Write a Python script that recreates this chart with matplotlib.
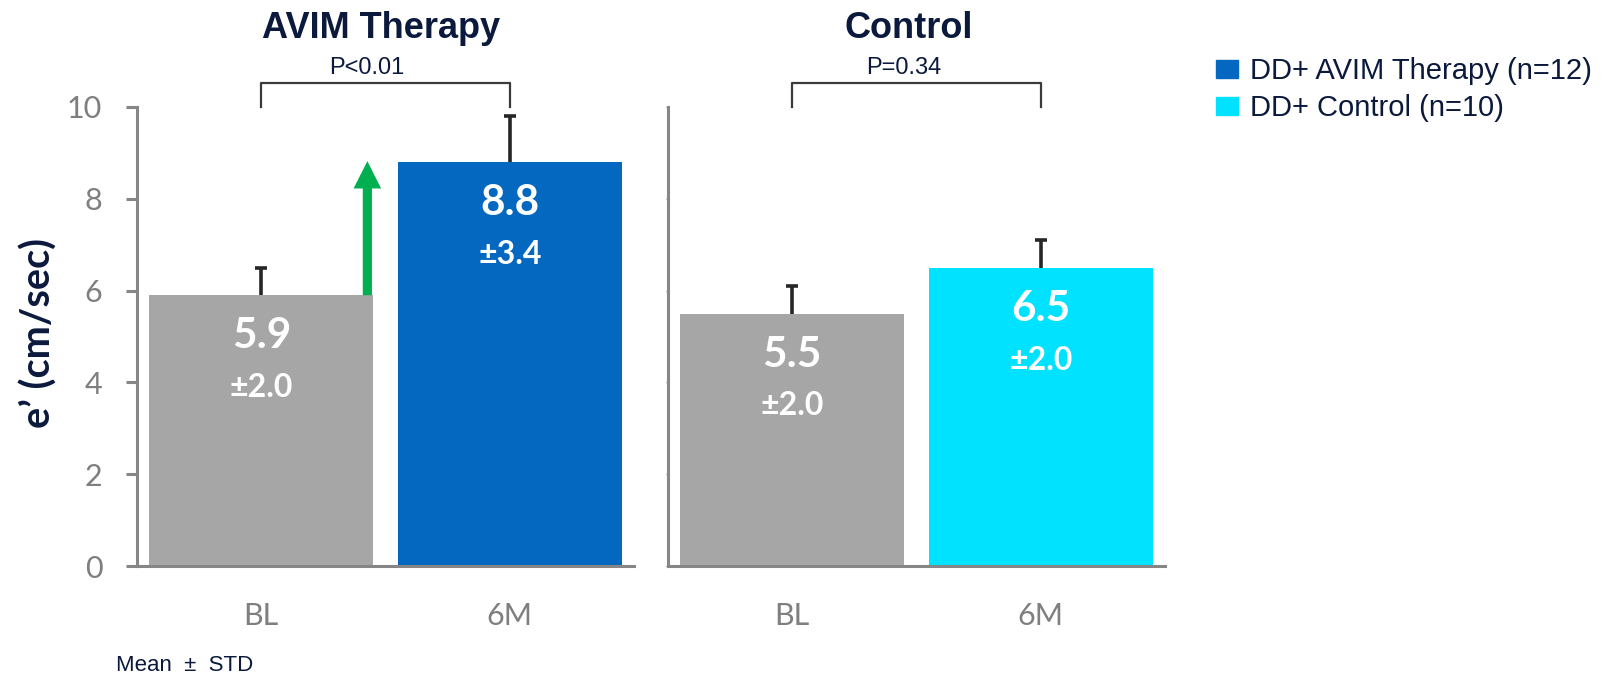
import matplotlib
matplotlib.use("Agg")
import matplotlib.pyplot as plt
from matplotlib.patches import Patch

# data
groups = ["AVIM Therapy", "Control"]
timepoints = ["BL", "6M"]
avim_means = [5.9, 8.8]
avim_sd = [2.0, 3.4]
avim_errbar = [0.6, 1.0]      # drawn whisker length (upper side only)
control_means = [5.5, 6.5]
control_sd = [2.0, 2.0]
control_errbar = [0.6, 0.6]
p_labels = ["P<0.01", "P=0.34"]
legend_labels = ["DD+ AVIM Therapy (n=12)", "DD+ Control (n=10)"]
yticks = [0, 2, 4, 6, 8, 10]

GRAY = "#A6A6A6"
BLUE = "#0468C1"
CYAN = "#00E2FF"
NAVY = "#0B1A3C"
AXIS = "#868686"
ERR = "#262626"
GREEN = "#00B050"

plt.rcParams["font.family"] = ["Liberation Sans", "DejaVu Sans"]

W, H = 1613, 675
fig = plt.figure(figsize=(W / 100, H / 100), dpi=100)


def px_axes(x0, y_bottom, width, y_top):
    return fig.add_axes([x0 / W, (H - y_bottom) / H, width / W, (y_bottom - y_top) / H])


ax1 = px_axes(137, 566, 497, 107)
ax2 = px_axes(668, 566, 497, 107)

panels = [
    (ax1, avim_means, avim_sd, avim_errbar, [GRAY, BLUE], p_labels[0], groups[0], 0.483, 0.426),
    (ax2, control_means, control_sd, control_errbar, [GRAY, CYAN], p_labels[1], groups[1], 0.467, 0.447),
]

x = [0, 1]
for ax, means, sds, errs, colors, ptxt, title, tx, px in panels:
    ax.bar(x, means, width=0.9, color=colors, zorder=2)
    # whiskers sit behind the bars so only the upper half shows
    ax.errorbar(x, means, yerr=[errs, errs], fmt="none", ecolor=ERR,
                elinewidth=2.6, capsize=4, capthick=2.6, zorder=1)
    for xi, m, s in zip(x, means, sds):
        ax.annotate(f"{m:.1f}", (xi, m), xytext=(0, -29.5), textcoords="offset points",
                    ha="center", va="center", color="white", fontsize=30.5,
                    fontweight="bold", family="Lato")
        ax.annotate(f"\u00b1{s:.1f}", (xi, m), xytext=(0, -66.5), textcoords="offset points",
                    ha="center", va="center", color="white", fontsize=23,
                    fontweight="bold", family="Lato")
    # significance bracket
    ax.plot([0, 0, 1, 1], [10.0, 10.52, 10.52, 10.0], color="#3A3A3A", lw=1.6,
            solid_joinstyle="round", clip_on=False)
    ax.text(px, 10.72, ptxt, ha="center", va="baseline", fontsize=17, color=NAVY)
    ax.text(tx, 11.5, title, ha="center", va="baseline", fontsize=26,
            fontweight="bold", color=NAVY)

    ax.set_xlim(-0.5, 1.5)
    ax.set_ylim(0, 10)
    ax.set_yticks(yticks)
    ax.set_xticks(x)
    ax.set_xticklabels(timepoints, family="Lato", fontsize=22, color="#7F7F7F")
    for side in ["top", "right"]:
        ax.spines[side].set_visible(False)
    for side in ["left", "bottom"]:
        ax.spines[side].set_color(AXIS)
        ax.spines[side].set_linewidth(2.2)
    ax.tick_params(axis="x", length=0, pad=26)

ax1.set_yticklabels([str(t) for t in yticks], family="Lato", fontsize=22, color="#7F7F7F")
ax1.tick_params(axis="y", length=8, width=2.2, color=AXIS, pad=17)
ax2.tick_params(axis="y", length=1.5, width=1, color=AXIS, labelleft=False)

# green improvement arrow
ax1.arrow(0.427, avim_means[0], 0, 8.82 - avim_means[0], width=0.037, head_width=0.111,
          head_length=0.595, length_includes_head=True, color=GREEN, lw=0, zorder=4)

fig.text(39 / W, 1 - 333 / H, "e\u2019 (cm/sec)", rotation=90, ha="center", va="center",
         fontsize=28.5, fontweight="bold", color=NAVY, family="Lato")

fig.text(116 / W, 1 - 671 / H, "Mean  \u00b1  STD", ha="left", va="baseline",
         fontsize=16, color=NAVY)

handles = [Patch(color=BLUE), Patch(color=CYAN)]
fig.legend(handles, legend_labels, loc="upper left", bbox_to_anchor=(1216 / W, 1 - 57 / H),
           frameon=False, fontsize=21, handlelength=0.77, handleheight=0.58,
           handletextpad=0.4, labelspacing=0.32, borderpad=0, borderaxespad=0,
           labelcolor=NAVY)

fig.savefig("out.png", dpi=100)
